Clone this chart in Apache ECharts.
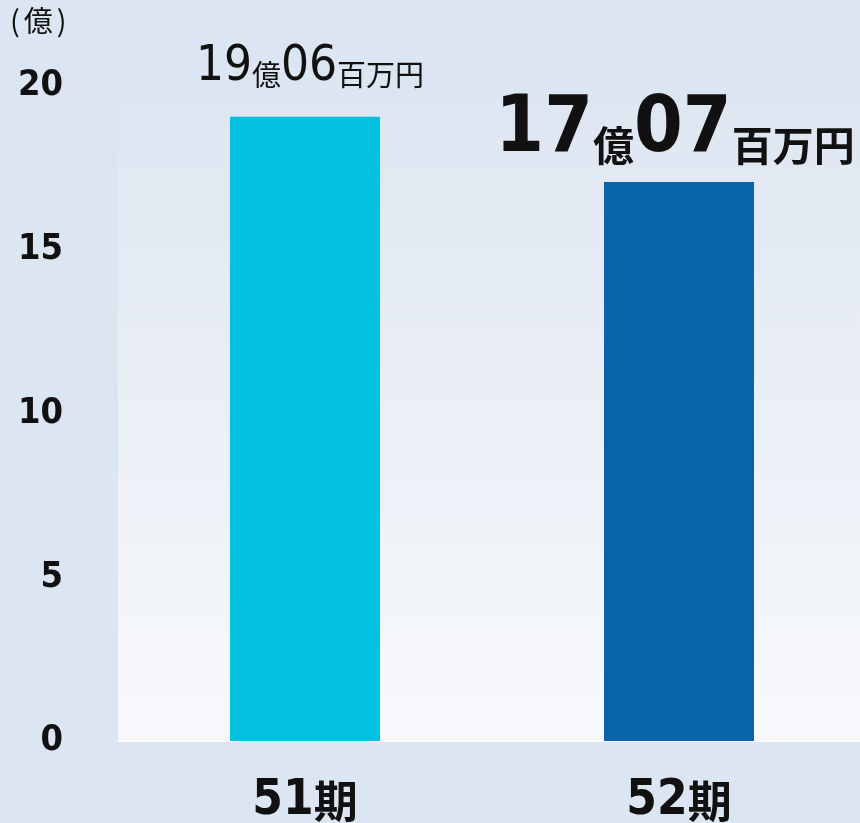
<!DOCTYPE html>
<html><head><meta charset="utf-8">
<script src="https://cdn.jsdelivr.net/npm/echarts@6/dist/echarts.min.js"></script>
<style>html,body{margin:0;padding:0;background:#dce6f2;}#c{width:860px;height:823px;}</style>
</head><body><div id="c"></div>
<script>
const categories = ['51期', '52期'];
const values = [19.06, 17.07];
const barColors = ['#03c1e0', '#0764aa'];
const yTicks = [0, 5, 10, 15, 20];
const unitLabel = '億';

const NUM = '"DejaVu Sans Condensed", "DejaVu Sans", sans-serif';
const CJK = '"Noto Sans CJK JP", sans-serif';
function parts(v) {
  const oku = Math.floor(v);
  const man = Math.round((v - oku) * 100);
  return [String(oku), String(man).padStart(2, '0')];
}
const chart = echarts.init(document.getElementById('c'), null, {renderer: 'canvas'});
chart.setOption({
  backgroundColor: '#dce6f2',
  animation: false,
  graphic: [
    {type: 'rect', z: -10, shape: {x: 118, y: 100, width: 742, height: 642},
     style: {fill: new echarts.graphic.LinearGradient(0, 0, 0, 1, [
       {offset: 0, color: '#dee6f1'}, {offset: 1, color: '#f8f9fc'}])}},
    {type: 'text', left: 10, top: 6, z: 10,
     style: {text: '{p|(}{k|' + unitLabel + '}{p|)}',
       rich: {p: {fontSize: 29, fontFamily: CJK, fill: '#111', padding: [0, 4, 0, 4]},
              k: {fontSize: 29, fontFamily: CJK, fill: '#111'}}}}
  ],
  grid: {left: 118, width: 748, top: 86, bottom: 82, outerBoundsMode: 'none', containLabel: false},
  xAxis: {
    type: 'category', data: categories,
    axisLine: {show: true, lineStyle: {color: '#ffffff', width: 1}},
    axisTick: {show: false},
    axisLabel: {margin: 36,
      formatter: v => '{n|' + v.replace('期', '') + '}{k|期}',
      rich: {
        n: {fontSize: 49, fontWeight: 'bold', color: '#111', fontFamily: NUM},
        k: {fontSize: 44, fontWeight: 'bold', color: '#111', fontFamily: CJK}
      }}
  },
  yAxis: {
    type: 'value', min: 0, max: 20, interval: 5,
    splitLine: {show: false}, axisLine: {show: false}, axisTick: {show: false},
    axisLabel: {margin: 55, fontSize: 36, fontWeight: 'bold', color: '#111', fontFamily: NUM,
      padding: [0, 0, 8, 0],
      formatter: v => yTicks.includes(v) ? String(v) : ''}
  },
  series: [{
    type: 'bar', barWidth: 150,
    data: values.map((v, i) => ({
      value: v,
      itemStyle: {color: barColors[i]},
      label: i === 0 ? {
        show: true, position: 'top', distance: 25, offset: [5, 0],
        formatter: () => { const p = parts(v); return '{a|' + p[0] + '}{b|億}{a|' + p[1] + '}{b|百万円}'; },
        rich: {
          a: {fontSize: 49, fontFamily: NUM, color: '#111', fontWeight: 'normal'},
          b: {fontSize: 29, fontFamily: CJK, color: '#111', verticalAlign: 'bottom', padding: [0, 0, 2, 0]}
        }
      } : {
        show: true, position: 'top', distance: 12, offset: [-4, 0],
        formatter: () => { const p = parts(v); return '{a|' + p[0] + '}{b|億}{a|' + p[1] + '}{b|百万円}'; },
        rich: {
          a: {fontSize: 78, fontFamily: NUM, color: '#111', fontWeight: 'bold'},
          b: {fontSize: 41, fontFamily: CJK, color: '#111', fontWeight: 'bold', verticalAlign: 'bottom', padding: [0, 0, 4, 0]}
        }
      }
    }))
  }]
});
</script></body></html>
